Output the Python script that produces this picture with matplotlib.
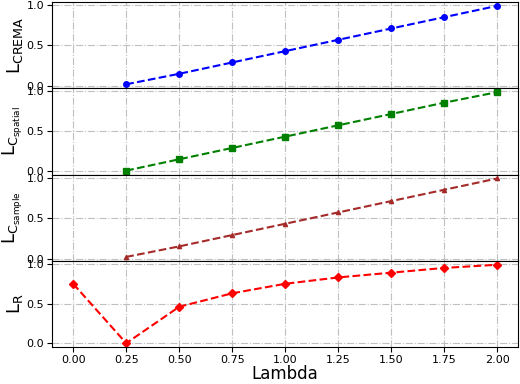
import matplotlib
matplotlib.use('Agg')
import matplotlib.pyplot as plt

# ==== data ====
lam_short = [0.25, 0.5, 0.75, 1.0, 1.25, 1.5, 1.75, 2.0]
lam_full = [0.0, 0.25, 0.5, 0.75, 1.0, 1.25, 1.5, 1.75, 2.0]

crema = [0.02, 0.15, 0.29, 0.43, 0.57, 0.71, 0.85, 0.99]
c_spatial = [0.01, 0.15, 0.29, 0.43, 0.57, 0.71, 0.85, 0.98]
c_sample = [0.02, 0.15, 0.29, 0.43, 0.57, 0.71, 0.85, 0.99]
loss_r = [0.75, 0.0, 0.46, 0.63, 0.75, 0.83, 0.89, 0.95, 0.99]

ylabels = [r'$\mathregular{L_{CREMA}}$',
           r'$\mathregular{L_{C_{spatial}}}$',
           r'$\mathregular{L_{C_{sample}}}$',
           r'$\mathregular{L_{R}}$']

fig, axes = plt.subplots(4, 1, figsize=(5.2, 3.84), dpi=100, sharex=True)
fig.subplots_adjust(left=0.1, right=0.997, top=0.995, bottom=0.096, hspace=0)

axes[0].plot(lam_short, crema, '--', color='blue', marker='o', markersize=4)
axes[1].plot(lam_short, c_spatial, '--', color='green', marker='s', markersize=4)
axes[2].plot(lam_short, c_sample, '--', color='brown', marker='^', markersize=3)
axes[3].plot(lam_full, loss_r, '--', color='red', marker='D', markersize=4)

for ax, lab in zip(axes, ylabels):
    ax.set_ylabel(lab, fontsize=13, labelpad=1)
    ax.set_yticks([0.0, 0.5, 1.0])
    ax.grid(True, linestyle='-.', color='#c0c0c0', linewidth=0.8)
    ax.tick_params(labelsize=8, pad=2)

axes[3].set_xticks([0.0, 0.25, 0.5, 0.75, 1.0, 1.25, 1.5, 1.75, 2.0])
axes[3].set_xlabel('Lambda', fontsize=12, labelpad=0)

plt.savefig('out.png')
